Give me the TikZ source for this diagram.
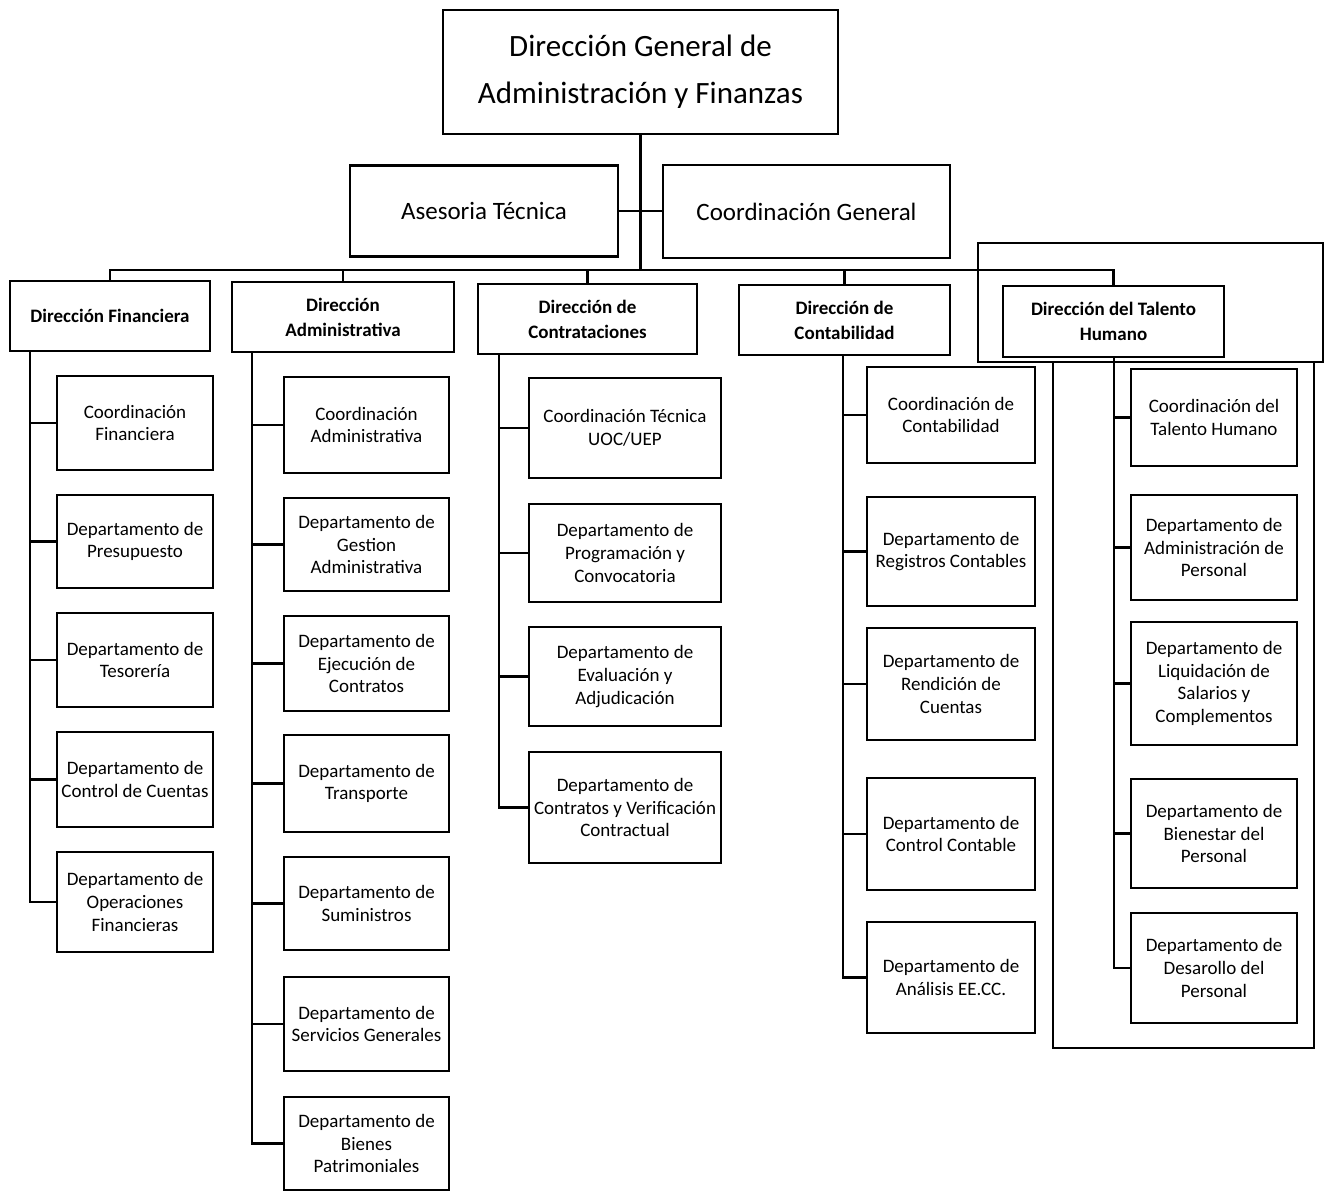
\documentclass[tikz,border=0pt]{standalone}
\usepackage{fontspec}
\setmainfont{Carlito}

\tikzset{
  box/.style={draw, line width=1.1pt, align=center, inner sep=1pt},
  sz/.style 2 args={minimum width=#1*0.5pt, minimum height=#2*0.5pt},
  dirtext/.style={font=\fontsize{9.5}{12.5}\selectfont\bfseries},
  deptext/.style={font=\fontsize{9.5}{11.3}\selectfont},
}

\begin{document}
\begin{tikzpicture}[x=0.5pt, y=-0.5pt, line width=1.1pt]
        \useasboundingbox (0,0) rectangle (1329,1191);
        % Nodes
        \node (top) at (640.5,72) [box, sz={395}{124}, font=\fontsize{15.5}{23.5}\selectfont] {Dirección General de\\Administración y Finanzas};
        \node (ase) at (484,211) [box, sz={268}{91}, font=\fontsize{12.5}{15}\selectfont] {Asesoria Técnica};
        \node (coor) at (806.5,211.5) [box, sz={287}{93}, font=\fontsize{12.5}{15}\selectfont] {Coordinación General};
        % Direcciones
        \node (dfin) at (110,316) [box, dirtext, sz={200}{70}] {Dirección Financiera};
        \node (dadm) at (343,317) [box, dirtext, sz={222}{70}] {Dirección\\Administrativa};
        \node (dcon) at (587.5,319) [box, dirtext, sz={219}{70}] {Dirección de\\Contrataciones};
        \node (dctb) at (844.5,320) [box, dirtext, sz={211}{70}] {Dirección de\\Contabilidad};
        \node (dtal) at (1113.5,321.5) [box, dirtext, sz={221}{71}] {Dirección del Talento\\Humano};
        % Financiera
        \node (f1) at (135,423) [box, deptext, sz={156}{94}] {Coordinación\\Financiera};
        \node (f2) at (135,541.5) [box, deptext, sz={156}{93}] {Departamento de\\Presupuesto};
        \node (f3) at (135,660) [box, deptext, sz={156}{94}] {Departamento de\\Tesorería};
        \node (f4) at (135,779.5) [box, deptext, sz={156}{95}] {Departamento de\\Control de Cuentas};
        \node (f5) at (135,902) [box, deptext, sz={156}{100}] {Departamento de\\Operaciones\\Financieras};
        % Administrativa
        \node (a1) at (366.5,425) [box, deptext, sz={165}{96}] {Coordinación\\Administrativa};
        \node (a2) at (366.5,544.5) [box, deptext, sz={165}{93}] {Departamento de\\Gestion\\Administrativa};
        \node (a3) at (366.5,663.5) [box, deptext, sz={165}{95}] {Departamento de\\Ejecución de\\Contratos};
        \node (a4) at (366.5,783.5) [box, deptext, sz={165}{97}] {Departamento de\\Transporte};
        \node (a5) at (366.5,903.5) [box, deptext, sz={165}{93}] {Departamento de\\Suministros};
        \node (a6) at (366.5,1024) [box, deptext, sz={165}{94}] {Departamento de\\Servicios Generales};
        \node (a7) at (366.5,1143.5) [box, deptext, sz={165}{93}] {Departamento de\\Bienes\\Patrimoniales};
        % Contrataciones
        \node (c1) at (625,428) [box, deptext, sz={192}{100}] {Coordinación Técnica\\UOC/UEP};
        \node (c2) at (625,553) [box, deptext, sz={192}{98}] {Departamento de\\Programación y\\Convocatoria};
        \node (c3) at (625,676.5) [box, deptext, sz={192}{99}] {Departamento de\\Evaluación y\\Adjudicación};
        \node (c4) at (625,807.5) [box, deptext, sz={192}{111}] {Departamento de\\Contratos y Verificación\\Contractual};
        % Contabilidad
        \node (b1) at (951,415) [box, deptext, sz={168}{96}] {Coordinación de\\Contabilidad};
        \node (b2) at (951,551.5) [box, deptext, sz={168}{109}] {Departamento de\\Registros Contables};
        \node (b3) at (951,684) [box, deptext, sz={168}{112}] {Departamento de\\Rendición de\\Cuentas};
        \node (b4) at (951,834) [box, deptext, sz={168}{112}] {Departamento de\\Control Contable};
        \node (b5) at (951,977.5) [box, deptext, sz={168}{111}] {Departamento de\\Análisis EE.CC.};
        % Talento Humano
        \node (t1) at (1214,417.5) [box, deptext, sz={166}{97}] {Coordinación del\\Talento Humano};
        \node (t2) at (1214,547.5) [box, deptext, sz={166}{105}] {Departamento de\\Administración de\\Personal};
        \node (t3) at (1214,683.5) [box, deptext, sz={166}{123}] {Departamento de\\Liquidación de\\Salarios y\\Complementos};
        \node (t4) at (1214,833.5) [box, deptext, sz={166}{109}] {Departamento de\\Bienestar del\\Personal};
        \node (t5) at (1214,968) [box, deptext, sz={166}{110}] {Departamento de\\Desarollo del\\Personal};

        % Frames round Talento Humano
        \draw (978,243) rectangle (1323,362);
        \draw (1053,362) rectangle (1314,1048);

        % Edges
        \coordinate (bus) at (640,270);
        \draw (top.south) -- (top.south |- bus);
        \draw (ase.east) -- (ase.east -| coor.west);
        \draw (dfin.north) -- (dfin.north |- bus) -- (dtal.north |- bus) -- (dtal.north);
        \foreach \d in {dadm,dcon,dctb} {
            \draw (\d.north) -- (\d.north |- bus);
        }
        % Trunks
        \coordinate (tf) at (30,351);
        \coordinate (ta) at (252,352);
        \coordinate (tc) at (499,354);
        \coordinate (tb) at (843,355);
        \coordinate (tt) at (1114,357);
        \foreach \i in {1,...,5} {
            \draw (tf) |- (f\i.west);
            \draw (tb) |- (b\i.west);
            \draw (tt) |- (t\i.west);
        }
        \foreach \i in {1,...,7} {
            \draw (ta) |- (a\i.west);
        }
        \foreach \i in {1,...,4} {
            \draw (tc) |- (c\i.west);
        }
    \end{tikzpicture}
\end{document}
